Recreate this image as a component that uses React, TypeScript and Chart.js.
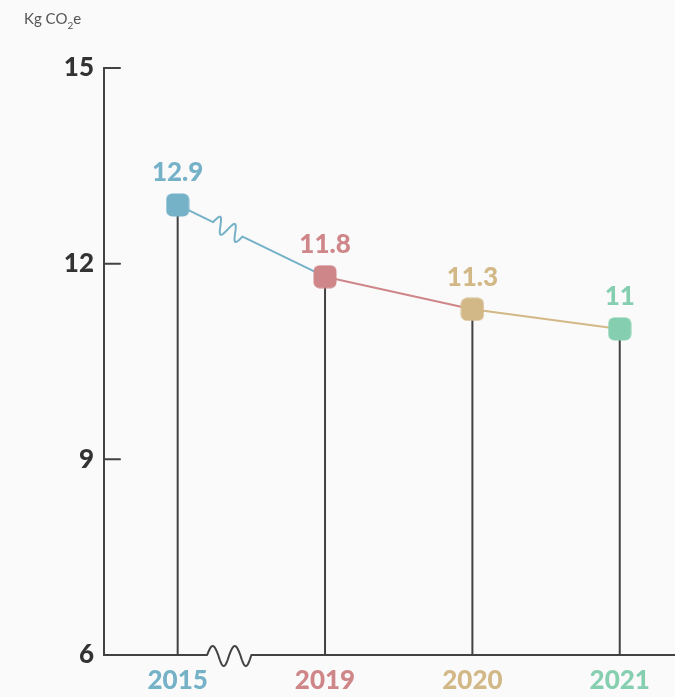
import { useEffect, useRef } from "react";
import { Chart, registerables } from "chart.js";

Chart.register(...registerables);

// Emissions per year
const years = ["2015", "2019", "2020", "2021"];
const emissions = [12.9, 11.8, 11.3, 11];
const valueLabels = ["12.9", "11.8", "11.3", "11"];
const yearColors = ["#75b1c7", "#cf8688", "#d2b886", "#85cfb0"];
const yTicks = [6, 9, 12, 15];

const BG = "#fafafa";
const INK = "#424242";
const FONT = "Lato, 'Open Sans', sans-serif";
const LABEL_SIZE = 26;

function makeMarker(color: string): HTMLCanvasElement {
  const c = document.createElement("canvas");
  c.width = 24;
  c.height = 24;
  const ctx = c.getContext("2d")!;
  ctx.fillStyle = color;
  ctx.beginPath();
  ctx.roundRect(0.5, 0.5, 23, 23, 6);
  ctx.fill();
  return c;
}

const sketchPlugin = {
  id: "sketch",
  beforeDraw(chart: any) {
    const { ctx, width, height } = chart;
    ctx.save();
    ctx.fillStyle = BG;
    ctx.fillRect(0, 0, width, height);
    ctx.restore();
  },
  beforeDatasetsDraw(chart: any) {
    const { ctx, chartArea } = chart;
    const xs = chart.scales.x;
    const ys = chart.scales.y;
    const { left, top, bottom } = chartArea;
    const right = chart.width;
    ctx.save();
    ctx.lineCap = "round";
    ctx.lineJoin = "round";

    // drop lines from each point to the baseline
    ctx.strokeStyle = INK;
    ctx.lineWidth = 2;
    emissions.forEach((v, i) => {
      const px = xs.getPixelForValue(i);
      ctx.beginPath();
      ctx.moveTo(px, ys.getPixelForValue(v));
      ctx.lineTo(px, bottom);
      ctx.stroke();
    });

    // y axis with inward ticks
    ctx.beginPath();
    ctx.moveTo(left, top);
    ctx.lineTo(left, bottom);
    ctx.stroke();
    yTicks.forEach((t) => {
      if (t === yTicks[0]) return;
      const py = ys.getPixelForValue(t);
      ctx.beginPath();
      ctx.moveTo(left, py);
      ctx.lineTo(left + 16, py);
      ctx.stroke();
    });

    // x axis with a break squiggle between the first two years
    const bx0 = xs.getPixelForValue(0.2);
    const bx1 = xs.getPixelForValue(0.5);
    ctx.beginPath();
    ctx.moveTo(left, bottom);
    ctx.lineTo(bx0, bottom);
    const n = 80;
    for (let k = 0; k <= n; k++) {
      const s = k / n;
      const x = bx0 + (bx1 - bx0) * s;
      const off = Math.sin(2 * Math.PI * 2 * s);
      const y = bottom - (off > 0 ? 9 * off : 11 * off);
      ctx.lineTo(x, y);
    }
    ctx.lineTo(right, bottom);
    ctx.stroke();

    // first segment of the trend line, with its break squiggle
    const ax = xs.getPixelForValue(0);
    const ay = ys.getPixelForValue(emissions[0]);
    const cx = xs.getPixelForValue(1);
    const cy = ys.getPixelForValue(emissions[1]);
    const dx = cx - ax;
    const dy = cy - ay;
    const len = Math.hypot(dx, dy);
    const nx = -dy / len;
    const ny = dx / len;
    const t0 = 0.24;
    const t1 = 0.44;
    ctx.strokeStyle = yearColors[0];
    ctx.beginPath();
    ctx.moveTo(ax, ay);
    ctx.lineTo(ax + dx * t0, ay + dy * t0);
    for (let k = 0; k <= n; k++) {
      const s = k / n;
      const t = t0 + (t1 - t0) * s;
      const off = -8 * Math.sin(2 * Math.PI * 2 * s);
      ctx.lineTo(ax + dx * t + nx * off, ay + dy * t + ny * off);
    }
    ctx.lineTo(cx, cy);
    ctx.stroke();
    ctx.restore();
  },
  afterDatasetsDraw(chart: any) {
    const { ctx } = chart;
    const xs = chart.scales.x;
    const ys = chart.scales.y;
    ctx.save();
    ctx.textAlign = "center";
    ctx.textBaseline = "middle";
    ctx.font = `900 ${LABEL_SIZE}px ${FONT}`;
    emissions.forEach((v, i) => {
      ctx.fillStyle = yearColors[i];
      ctx.fillText(valueLabels[i], xs.getPixelForValue(i), ys.getPixelForValue(v) - 32);
    });

    // unit label
    ctx.textAlign = "left";
    ctx.textBaseline = "alphabetic";
    ctx.fillStyle = "#555555";
    ctx.font = `15px ${FONT}`;
    const main = "Kg CO";
    ctx.fillText(main, 24, 24);
    const w = ctx.measureText(main).width;
    ctx.font = `10px ${FONT}`;
    ctx.fillText("2", 24 + w, 29);
    const w2 = ctx.measureText("2").width;
    ctx.font = `15px ${FONT}`;
    ctx.fillText("e", 24 + w + w2, 24);
    ctx.restore();
  },
};

export default function App() {
  const ref = useRef<HTMLCanvasElement | null>(null);

  useEffect(() => {
    document.body.style.margin = "0";
    const canvas = ref.current!;
    const markers = yearColors.map(makeMarker);
    const chart = new Chart(canvas, {
      type: "line",
      data: {
        labels: years,
        datasets: [
          {
            data: emissions.map((v, i) => ({ x: i, y: v })),
            borderWidth: 2,
            borderColor: yearColors[0],
            segment: {
              borderColor: (c: any) =>
                c.p0DataIndex === 0 ? "rgba(0,0,0,0)" : yearColors[c.p0DataIndex],
            },
            pointStyle: markers as any,
            pointRadius: 12,
            pointHoverRadius: 12,
            tension: 0,
          },
        ],
      },
      options: {
        animation: false,
        responsive: false,
        events: [],
        layout: { autoPadding: false, padding: { top: 68, left: 0, right: 0, bottom: 0 } },
        plugins: {
          legend: { display: false },
          tooltip: { enabled: false },
        },
        scales: {
          x: {
            type: "linear",
            min: -0.5,
            max: 3.375,
            afterBuildTicks: (s: any) => {
              s.ticks = years.map((_, i) => ({ value: i }));
            },
            afterFit: (s: any) => {
              s.height = 42;
            },
            grid: { display: false, drawTicks: false },
            border: { display: false },
            ticks: {
              padding: 10,
              font: { family: FONT, size: LABEL_SIZE, weight: "900" },
              color: (c: any) => yearColors[c.tick?.value ?? c.index] ?? INK,
              callback: (v: any) => years[v] ?? "",
            },
          },
          y: {
            min: 6,
            max: 15,
            afterBuildTicks: (s: any) => {
              s.ticks = yTicks.map((v) => ({ value: v }));
            },
            afterFit: (s: any) => {
              s.width = 104;
            },
            grid: { display: false, drawTicks: false },
            border: { display: false },
            ticks: {
              padding: 10,
              font: { family: FONT, size: LABEL_SIZE, weight: "900" },
              color: "#333333",
            },
          },
        },
      },
      plugins: [sketchPlugin],
    });
    return () => chart.destroy();
  }, []);

  return (
    <div style={{ width: 675, height: 697, background: BG }}>
      <canvas ref={ref} width={675} height={697} style={{ display: "block" }} />
    </div>
  );
}
